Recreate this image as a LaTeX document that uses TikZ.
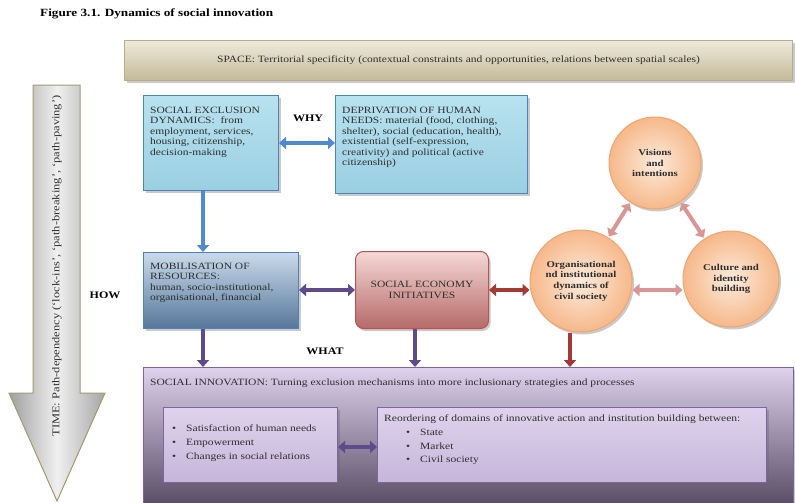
\documentclass[tikz,border=0pt]{standalone}
\usepackage{fontspec}
\setmainfont{Liberation Serif}[FakeStretch=1.2]
\usetikzlibrary{arrows.meta,shadows}
\definecolor{spaceTop}{HTML}{EEEADB}
\definecolor{spaceBot}{HTML}{C4BA9A}
\definecolor{spaceBd}{HTML}{B8AD88}
\definecolor{lbTop}{HTML}{B8E2EF}
\definecolor{lbBot}{HTML}{9ACFE2}
\definecolor{blueBd}{HTML}{4F81BD}
\definecolor{mobTop}{HTML}{CADAEB}
\definecolor{mobBot}{HTML}{56779A}
\definecolor{seiTop}{HTML}{F5D8D7}
\definecolor{seiBot}{HTML}{B56A68}
\definecolor{seiBd}{HTML}{B85450}
\definecolor{cirIn}{HTML}{FDEBDC}
\definecolor{cirOut}{HTML}{F6B88A}
\definecolor{cirBd}{HTML}{F0A470}
\definecolor{pinkAr}{HTML}{D99694}
\definecolor{redAr}{HTML}{A33A36}
\definecolor{purAr}{HTML}{5F4B8B}
\definecolor{blueAr}{HTML}{4F8BD0}
\definecolor{siTop}{HTML}{DDD1EB}
\definecolor{siBot}{HTML}{574A63}
\definecolor{siBd}{HTML}{8064A2}
\definecolor{inTop}{HTML}{DED3EC}
\definecolor{inBot}{HTML}{C6B6DA}
\definecolor{timeBd}{HTML}{A59A6E}
\definecolor{txtc}{HTML}{2E2E2E}
\tikzset{
  shd/.style={drop shadow={shadow xshift=2pt,shadow yshift=-2.5pt,opacity=0.35,fill=black!60}},
  boxbase/.style={draw,line width=1pt,anchor=north west,inner sep=0pt,shd},
  spacebox/.style={boxbase,draw=spaceBd,top color=spaceTop,bottom color=spaceBot},
  lbbox/.style={boxbase,draw=blueBd,top color=lbTop,bottom color=lbBot},
  mobbox/.style={boxbase,draw=blueBd,top color=mobTop,bottom color=mobBot},
  seibox/.style={boxbase,draw=seiBd,top color=seiTop,bottom color=seiBot,rounded corners=8pt},
  sibox/.style={boxbase,draw=siBd,top color=siTop,bottom color=siBot},
  inbox/.style={boxbase,draw=siBd,top color=inTop,bottom color=inBot},
  circ/.style={circle,draw=cirBd,line width=1pt,inner color=cirIn,outer color=cirOut,minimum size=#1,inner sep=0pt,shd},
  txt/.style={text=txtc,font=\fontsize{9.6}{10.4}\selectfont,align=left,inner sep=0pt},
  ltxt/.style={text=txtc,font=\fontsize{9.6}{13.6}\selectfont,align=left,inner sep=0pt},
  ctxt/.style={text=txtc,font=\fontsize{9}{10.6}\selectfont\bfseries,align=center,inner sep=0pt},
  lbl/.style={font=\fontsize{10}{11}\selectfont\bfseries,inner sep=0pt},
  dbl/.style={line width=4pt,{Triangle[length=7pt,width=12pt]}-{Triangle[length=7pt,width=12pt]}},
  sgl/.style={line width=4pt,-{Triangle[length=7pt,width=12pt]}},
}
\begin{document}
\begin{tikzpicture}[x=1pt,y=-1pt]
\useasboundingbox (0,0) rectangle (795,503);
% title
\node[font=\fontsize{11}{13}\selectfont\bfseries,anchor=west,inner sep=0pt] (title) at (40,14) {Figure 3.1. Dynamics of social innovation};
% space
\node[spacebox,minimum width=668,minimum height=40] (space) at (124,40) {};
\node[txt] (spacet) at (space.center) {SPACE: Territorial specificity (contextual constraints and opportunities, relations between spatial scales)};
% time arrow
\path[draw=timeBd,line width=1pt,left color=gray!75,right color=gray!70,middle color=gray!12]
  (33,85) -- (80,85) -- (80,393) -- (105,393) -- (57,501) -- (9,393) -- (33,393) -- cycle;
\node[txt,rotate=90,font=\fontsize{10.4}{11}\selectfont] (timet) at (57,266) {TIME: Path-dependency (‘lock-ins’, ‘path-breaking’, ‘path-paving’)};
% top boxes
\node[lbbox,minimum width=135,minimum height=95] (sed) at (143,95) {};
\node[txt,anchor=north west] (sedt) at (150,107) {SOCIAL EXCLUSION\\DYNAMICS:\ \ from\\employment, services,\\housing, citizenship,\\decision-making};
\node[lbbox,minimum width=192,minimum height=98] (dep) at (335,95) {};
\node[txt,anchor=north west] (dept) at (342,107) {DEPRIVATION OF HUMAN\\NEEDS: material (food, clothing,\\shelter), social (education, health),\\existential (self-expression,\\creativity) and political (active\\citizenship)};
\node[lbl] (why) at (308,118) {WHY};
\draw[dbl,blueAr] (sed.east |- 0,143) -- (dep.west |- 0,143);
% middle
\node[mobbox,minimum width=155,minimum height=76] (mob) at (143,252) {};
\node[txt,anchor=north west] (mobt) at (150,263) {MOBILISATION OF\\RESOURCES:\\human, socio-institutional,\\organisational, financial};
\node[seibox,minimum width=133,minimum height=77] (sei) at (355,251) {};
\node[txt,align=center] (seit) at (sei.center) {SOCIAL ECONOMY\\INITIATIVES};
\node[lbl] (how) at (105,295) {HOW};
\node[lbl] (what) at (325,351) {WHAT};
\draw[sgl,blueAr] (sed.south -| 203,0) -- (mob.north -| 203,0);
\draw[dbl,purAr] (mob.east |- 0,290) -- (sei.west |- 0,290);
% circles
\node[circ=92] (vis) at (655,163) {};
\node[ctxt] (vist) at (vis.center) {Visions\\and\\intentions};
\node[circ=102] (org) at (581,281) {};
\node[ctxt] (orgt) at (org.center) {Organisational\\nd institutional\\dynamics of\\civil society};
\node[circ=96] (cul) at (731,279) {};
\node[ctxt] (cult) at (cul.center) {Culture and\\identity\\building};
\draw[dbl,pinkAr,shorten <=1pt,shorten >=1pt] (vis) -- (org);
\draw[dbl,pinkAr,shorten <=1pt,shorten >=1pt] (vis) -- (cul);
\draw[dbl,pinkAr] (org.east |- 0,290) -- (cul.west |- 0,290);
\draw[dbl,redAr] (sei.east |- 0,290) -- (org.west |- 0,290);
% social innovation
\node[sibox,minimum width=650,minimum height=140] (si) at (143,367) {};
\node[txt,anchor=west] (sit) at (150,383) {SOCIAL INNOVATION: Turning exclusion mechanisms into more inclusionary strategies and processes};
\draw[sgl,purAr] (mob.south -| 203,0) -- (si.north -| 203,0);
\draw[sgl,purAr] (sei.south -| 415,0) -- (si.north -| 415,0);
\draw[sgl,redAr] (org.south -| 570,0) -- (si.north -| 570,0);
\node[inbox,minimum width=174,minimum height=75] (inl) at (163,407) {};
\node[ltxt,anchor=north west] (inlt) at (172,425) {\textbullet\hspace{10pt}Satisfaction of human needs\\\textbullet\hspace{10pt}Empowerment\\\textbullet\hspace{10pt}Changes in social relations};
\node[inbox,minimum width=389,minimum height=75] (inr) at (377,407) {};
\node[ltxt,anchor=north west] (inrt) at (384,415) {Reordering of domains of innovative action and institution building between:\\\hspace{22pt}\textbullet\hspace{10pt}State\\\hspace{22pt}\textbullet\hspace{10pt}Market\\\hspace{22pt}\textbullet\hspace{10pt}Civil society};
\draw[dbl,purAr] (inl.east |- 0,447) -- (inr.west |- 0,447);
\end{tikzpicture}
\end{document}
